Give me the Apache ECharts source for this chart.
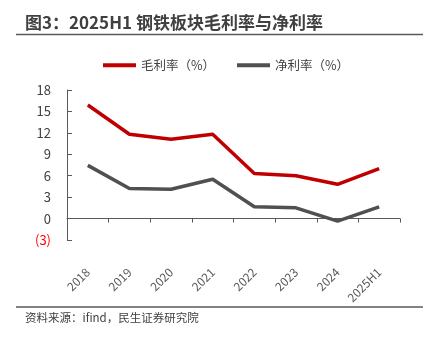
<!DOCTYPE html>
<html>
<head>
<meta charset="utf-8">
<script src="https://cdn.jsdelivr.net/npm/echarts@6/dist/echarts.min.js"></script>
<style>
html,body{margin:0;padding:0;background:#fff;}
#c{width:430px;height:340px;}
</style>
</head>
<body>
<div id="c"></div>
<script>
const categories = ['2018','2019','2020','2021','2022','2023','2024','2025H1'];
const grossMargin = [15.9, 11.8, 11.1, 11.8, 6.3, 6.0, 4.8, 7.0];
const netMargin = [7.45, 4.2, 4.1, 5.5, 1.65, 1.5, -0.35, 1.65];
const seriesNames = ['毛利率（%）', '净利率（%）'];
const titleText = '图3：2025H1 钢铁板块毛利率与净利率';
const sourceText = '资料来源：ifind，民生证券研究院';

const chart = echarts.init(document.getElementById('c'), null, {renderer:'canvas'});
const font = '"Noto Sans CJK SC", "Noto Sans", sans-serif';
chart.setOption({
  animation: false,
  textStyle: {fontFamily: font},
  graphic: [
    {type:'text', left: 25, top: 14, style:{text: titleText, font: 'bold 17px ' + font, fill:'#404040'}},
    {type:'line', shape:{x1:16, y1:34.5, x2:423, y2:34.5}, style:{stroke:'#595959', lineWidth:1.5}},
    {type:'line', shape:{x1:16, y1:307, x2:423, y2:307}, style:{stroke:'#595959', lineWidth:1.5}},
    {type:'text', left: 25, top: 312, style:{text: sourceText, font: '11.5px ' + font, fill:'#404040'}}
  ],
  legend: {
    top: 54, left: 98,
    itemWidth: 33, itemHeight: 4, itemGap: 22,
    icon: 'rect',
    textStyle: {fontSize: 12.5, color:'#404040', fontFamily: font},
    data: seriesNames
  },
  grid: {left: 67, right: 30, top: 90, bottom: 100, containLabel: false},
  xAxis: {
    type: 'category', data: categories, boundaryGap: true,
    axisLine: {onZero: true, lineStyle:{color:'#595959', width:1}},
    axisTick: {show:true, inside:false, length:4, alignWithLabel:false, lineStyle:{color:'#595959'}},
    axisLabel: {rotate: 45, color:'#595959', fontSize: 12, margin: 30, fontFamily: font, interval: 0}
  },
  yAxis: {
    type: 'value', min: -3, max: 18, interval: 3,
    splitLine: {show:false},
    axisLine: {show:true, lineStyle:{color:'#595959', width:1}},
    axisTick: {show:true, inside:true, length:5, lineStyle:{color:'#595959'}},
    axisLabel: {
      fontSize: 13, margin: 16, fontFamily: font,
      color: v => (v < 0 ? '#FF0000' : '#404040'),
      formatter: v => (v < 0 ? '(' + Math.abs(v) + ')' : String(v))
    }
  },
  series: [
    {name: seriesNames[0], type:'line', data: grossMargin, symbol:'none', lineStyle:{color:'#C00000', width:3.5}, itemStyle:{color:'#C00000'}},
    {name: seriesNames[1], type:'line', data: netMargin, symbol:'none', lineStyle:{color:'#505050', width:3.5}, itemStyle:{color:'#505050'}}
  ]
});
</script>
</body>
</html>
